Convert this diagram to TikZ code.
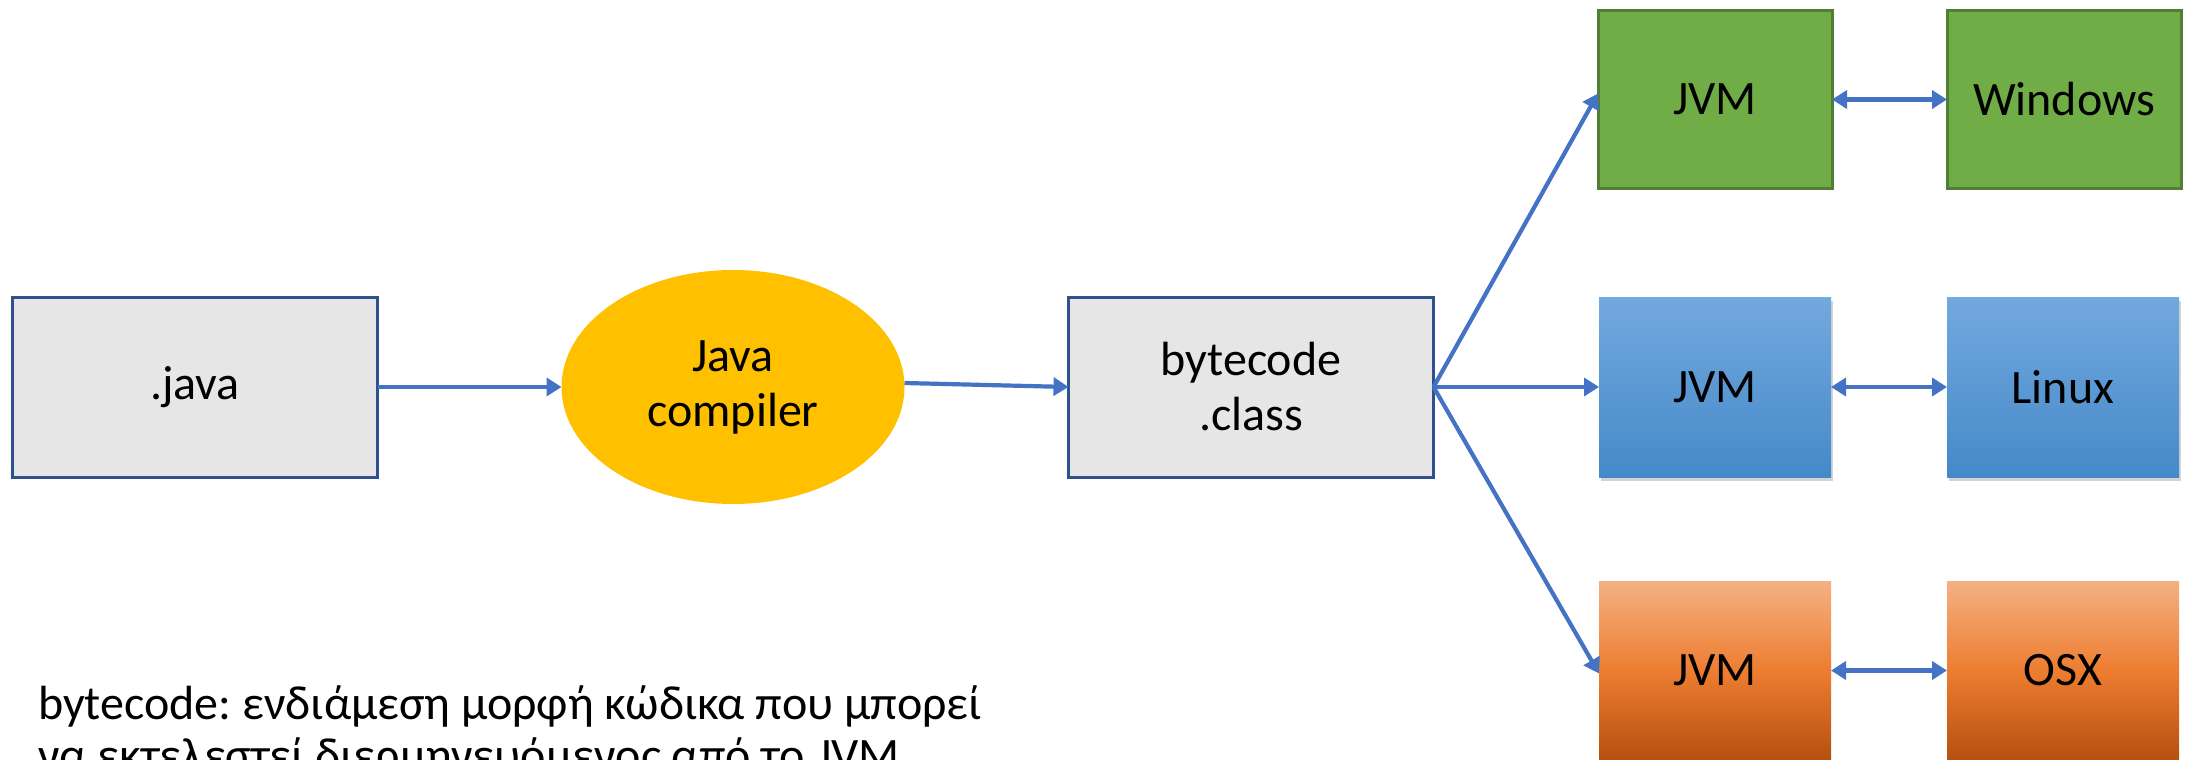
\documentclass[tikz,border=0pt]{standalone}
\usepackage{fontspec}
\setmainfont{Carlito}
\usetikzlibrary{shapes.geometric,arrows.meta,shadows}
\definecolor{boxgray}{HTML}{E7E6E6}
\definecolor{boxedge}{HTML}{2F528F}
\definecolor{compyellow}{HTML}{FFC000}
\definecolor{winfill}{HTML}{70AD47}
\definecolor{winedge}{HTML}{507E32}
\definecolor{bluetop}{HTML}{72A9DE}
\definecolor{bluebot}{HTML}{4589C9}
\definecolor{orgtop}{HTML}{F4B183}
\definecolor{orgmid}{HTML}{ED7D31}
\definecolor{orgbot}{HTML}{B5500F}
\definecolor{arrowblue}{HTML}{4472C4}
\frenchspacing
\begin{document}
\begin{tikzpicture}[x=1pt,y=-1pt,
  every node/.style={inner sep=0pt,outer sep=0pt,align=center,
    font=\fontsize{48}{55}\selectfont},
  graybox/.style={draw=boxedge,line width=3pt,fill=boxgray,
    minimum width=365pt,minimum height=180pt},
  greenbox/.style={draw=winedge,line width=3pt,fill=winfill,
    minimum width=234pt,minimum height=177pt},
  bluebox/.style={top color=bluetop,bottom color=bluebot,
    drop shadow={shadow xshift=2pt,shadow yshift=-4pt,opacity=0.35},
    minimum width=232pt,minimum height=180pt},
  orangebox/.style={top color=orgtop,bottom color=orgbot,middle color=orgmid,
    minimum width=232pt,minimum height=179pt},
  conn/.style={draw=arrowblue,line width=4.2pt,
    -{Triangle[length=15pt,width=18pt]}},
  dconn/.style={draw=arrowblue,line width=4.2pt,
    {Triangle[length=15pt,width=18pt]}-{Triangle[length=15pt,width=18pt]}}
]
\clip (0,0) rectangle (2185,760);
\useasboundingbox (0,0) rectangle (2185,760);

\node[graybox] (java) at (195,387) {.java};
\node[ellipse,fill=compyellow,minimum width=343pt,minimum height=234pt] (comp) at (733,387) {Java\\compiler};
\node[graybox] (bc) at (1251,387) {bytecode\\.class};

\node[greenbox] (jvma) at (1715,99.5) {JVM};
\node[greenbox] (win) at (2064,99.5) {Windows};
\node[bluebox] (jvmb) at (1715,387) {JVM};
\node[bluebox] (lin) at (2063,387) {Linux};
\node[orangebox] (jvmc) at (1715,670.5) {JVM};
\node[orangebox] (osx) at (2063,670.5) {OSX};

\draw[conn] (java.east) -- (comp.west);
\draw[conn] ([yshift=4pt]comp.east) -- (bc.west);
\draw[conn] (bc.east) -- ([yshift=6pt]jvma.west);
\draw[conn] (bc.east) -- (jvmb.west);
\draw[conn] (bc.east) -- ([yshift=-3pt]jvmc.west);

\draw[dconn] (jvma.east) -- (win.west);
\draw[dconn] (jvmb.east) -- (lin.west);
\draw[dconn] (jvmc.east) -- (osx.west);

\node[anchor=base west,align=left,font=\fontsize{48}{52}\selectfont] (note) at (38,771)
  {bytecode: ενδιάμεση μορφή κώδικα που μπορεί\\να εκτελεστεί διερμηνευόμενος από το JVM};
\end{tikzpicture}
\end{document}
